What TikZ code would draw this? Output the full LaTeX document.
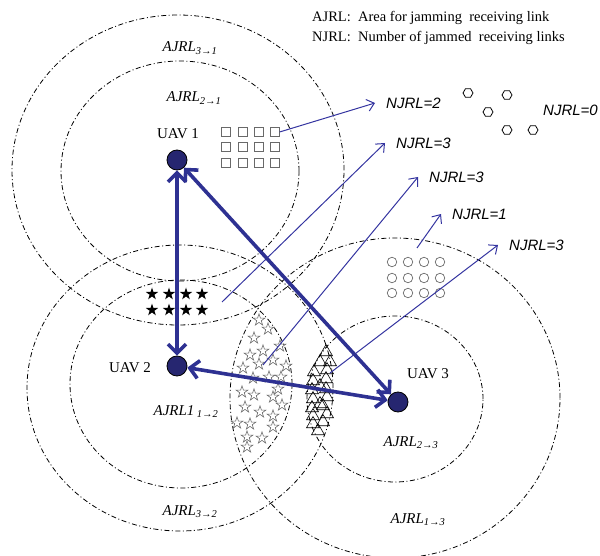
\documentclass[tikz,border=0pt]{standalone}
\usepackage{fontspec}
\setmainfont{Liberation Serif}
\newfontfamily\arialfont{Liberation Sans}
\usetikzlibrary{arrows.meta,shapes.geometric}

\definecolor{linkblue}{RGB}{46,49,146}
\definecolor{uavfill}{RGB}{38,38,112}
\definecolor{pointer}{RGB}{52,52,160}
\definecolor{markgray}{RGB}{105,105,105}

\newcommand\jsub[1]{\textsubscript{#1}}

\tikzset{
  zone/.style={draw=black, line width=0.8pt,
    dash pattern=on 5pt off 2.5pt on 1pt off 2.5pt},
  uav/.style={circle, draw=black, line width=0.8pt, fill=uavfill,
    minimum size=20pt, inner sep=0pt},
  link/.style={draw=linkblue, line width=3.6pt,
    arrows={Straight Barb[length=9pt,width=18pt]-Straight Barb[length=9pt,width=18pt]}},
  pointer/.style={draw=pointer, line width=1pt,
    -{Straight Barb[length=7pt,width=12pt]}},
  sq/.style={rectangle, draw=markgray, line width=0.7pt, minimum size=8.5pt, inner sep=0pt},
  ring/.style={circle, draw=markgray, line width=0.7pt, minimum size=9.5pt, inner sep=0pt},
  hexa/.style={regular polygon, regular polygon sides=6, draw=black, line width=0.8pt,
    minimum size=10pt, inner sep=0pt},
  fstar/.style={star, star points=5, star point ratio=2.6, fill=black,
    minimum size=13pt, inner sep=0pt},
  hstar/.style={star, star points=5, star point ratio=2.6, draw=markgray,
    line width=0.6pt, minimum size=12.5pt, inner sep=0pt},
  tri/.style={regular polygon, regular polygon sides=3, draw=black,
    line width=0.6pt, minimum size=15pt, inner sep=0pt},
  ajrl/.style={font=\fontsize{15}{18}\selectfont\itshape, anchor=base, inner sep=0pt},
  uavlabel/.style={font=\fontsize{15}{18}\selectfont, anchor=base, inner sep=0pt},
  njrl/.style={font=\fontsize{15}{18}\selectfont\arialfont\itshape, anchor=west,
    inner xsep=11pt, inner ysep=1pt},
  legend/.style={font=\fontsize{14.5}{18}\selectfont, anchor=base west, inner sep=0pt},
}

\begin{document}
\begin{tikzpicture}[x=1pt, y=-1pt]
\useasboundingbox (0,0) rectangle (600,556);

% coverage zones (dash-dotted)
\draw[zone] (178,170) ellipse [x radius=166pt, y radius=155pt];
\draw[zone] (180,171) ellipse [x radius=119pt, y radius=110pt];
\draw[zone] (180,388) ellipse [x radius=153pt, y radius=143pt];
\draw[zone] (181,384) ellipse [x radius=111pt, y radius=104pt];
\draw[zone] (395,398) ellipse [x radius=165pt, y radius=160pt];
\draw[zone] (395,399) ellipse [x radius=88pt, y radius=83pt];

% square markers
\foreach \i/\x in {1/226,2/243,3/259,4/275}
  \foreach \j/\y in {1/132,2/147,3/163}
    \node[sq] (sq-\i-\j) at (\x,\y) {};

% ring markers
\foreach \i/\x in {1/392,2/408,3/424,4/440}
  \foreach \j/\y in {1/262,2/278,3/293}
    \node[ring] (rg-\i-\j) at (\x,\y) {};

% hexagon markers
\foreach \x/\y [count=\k] in {468/93,507/95,488/112,507/130,533/130}
  \node[hexa] (hx-\k) at (\x,\y) {};

% filled stars
\foreach \i/\x in {1/152,2/169,3/186,4/202}
  \foreach \j/\y in {1/294,2/310}
    \node[fstar] (fs-\i-\j) at (\x,\y) {};

% hollow stars
\foreach \x/\y [count=\k] in {259/320,268/329,254/338,280/346,250/355,263/351,
    273/360,259/364,243/368,253/378,269/377,281/377,278/389,242/392,254/395,
    273/397,245/407,260/412,273/416,237/423,250/424,273/427,247/437,262/438,
    247/447,282/405,286/366}
  \node[hstar] (hs-\k) at (\x,\y) {};

% triangles
\foreach \x/\y [count=\k] in {326/352,320/362,330/362,314/372,327/370,313/381,
    326/379,320/386,312/390,326/389,313/399,327/397,320/404,312/408,323/406,
    313/416,327/414,313/424,323/422,318/431}
  \node[tri] (tr-\k) at (\x,\y) {};

% pointer origins
\coordinate (fsp) at (222,302);
\coordinate (hsp) at (263,365);
\coordinate (rgp) at (417,248);
\coordinate (trp) at (330,373);

% NJRL labels
\node[njrl] (nj2) at (375,103) {NJRL=2};
\node[njrl] (nj3a) at (385,143) {NJRL=3};
\node[njrl] (nj3b) at (418,177) {NJRL=3};
\node[njrl] (nj1) at (441,214) {NJRL=1};
\node[njrl] (nj3c) at (498,245) {NJRL=3};
\node[njrl] (nj0) at (532,110) {NJRL=0};

% pointers
\draw[pointer] (sq-4-1.east) -- (nj2.west);
\draw[pointer] (fsp) -- (nj3a.west);
\draw[pointer] (hsp) -- (nj3b.west);
\draw[pointer] (rgp) -- (nj1.west);
\draw[pointer] (trp) -- (nj3c.west);

% UAVs
\node[uav] (u1) at (177,160) {};
\node[uav] (u2) at (177,366) {};
\node[uav] (u3) at (398,402) {};

% links
\draw[link] (u1) -- (u2);
\draw[link] (u1) -- (u3);
\draw[link] (u2) -- (u3);

% UAV labels
\node[uavlabel] (l1) at (178,139) {UAV 1};
\node[uavlabel] (l2) at (130,372) {UAV 2};
\node[uavlabel] (l3) at (428,378) {UAV 3};

% zone labels
\node[ajrl] (a31) at (190,52) {AJRL\jsub{3→1}};
\node[ajrl] (a21) at (194,102) {AJRL\jsub{2→1}};
\node[ajrl] (a12) at (186,415) {AJRL1\,\jsub{1→2}};
\node[ajrl] (a32) at (190,515) {AJRL\jsub{3→2}};
\node[ajrl] (a23) at (411,446) {AJRL\jsub{2→3}};
\node[ajrl] (a13) at (418,523) {AJRL\jsub{1→3}};

% legend
\node[legend] (lg1) at (312,22) {AJRL:\ \ Area for jamming\ \ receiving link};
\node[legend] (lg2) at (312,42) {NJRL:\ \ Number of jammed\ \ receiving links};
\end{tikzpicture}
\end{document}
